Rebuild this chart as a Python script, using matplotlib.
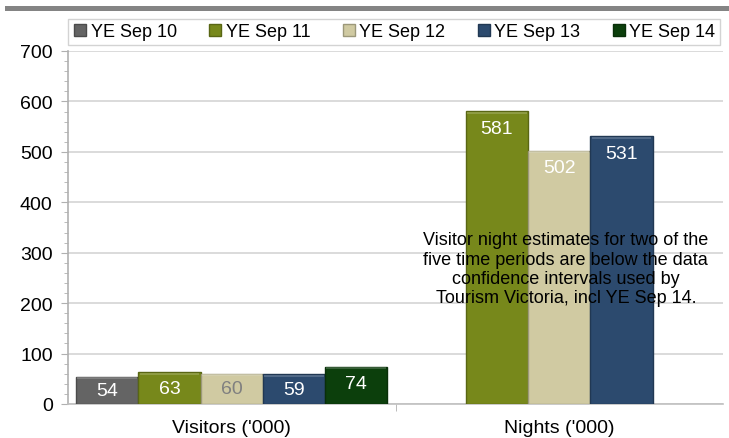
import numpy as np
import matplotlib
matplotlib.use("Agg")
import matplotlib.pyplot as plt
from matplotlib.patches import Rectangle
from matplotlib.lines import Line2D
import matplotlib.colors as mcolors

plt.rcParams['font.family'] = ['Liberation Sans', 'DejaVu Sans']

categories = ["Visitors ('000)", "Nights ('000)"]
series = ["YE Sep 10", "YE Sep 11", "YE Sep 12", "YE Sep 13", "YE Sep 14"]
ye_sep_10 = [54, np.nan]
ye_sep_11 = [63, 581]
ye_sep_12 = [60, 502]
ye_sep_13 = [59, 531]
ye_sep_14 = [74, np.nan]
values = [ye_sep_10, ye_sep_11, ye_sep_12, ye_sep_13, ye_sep_14]
colors = ["#646464", "#77881b", "#d0caa2", "#2c4a6e", "#0c3f0c"]
label_colors = [["white", "white"], ["white", "white"], ["#808080", "white"],
                ["white", "white"], ["white", "white"]]
note = ("Visitor night estimates for two of the\nfive time periods are below the data\n"
        "confidence intervals used by\nTourism Victoria, incl YE Sep 14.")

fig = plt.figure(figsize=(7.29, 4.39), dpi=100)
ax = fig.add_axes([68/729, 1-405/439, (723-68)/729, (405-52)/439])

# top gray rule
fig.add_artist(Rectangle((5/729, 1-12/439), 724/729, 5/439, transform=fig.transFigure,
                         facecolor="#848484", edgecolor="none"))

x = np.arange(len(categories))
width = 0.19
for i, (vals, c, lcs) in enumerate(zip(values, colors, label_colors)):
    pos = x + (i - 2) * width
    dark = tuple(np.array(mcolors.to_rgb(c)) * 0.75)
    bars = ax.bar(pos, vals, width, color=c, edgecolor=dark, linewidth=1.0, zorder=3)
    for b, v, lc in zip(bars, vals, lcs):
        if np.isnan(v):
            continue
        light = tuple(np.minimum(1, np.array(mcolors.to_rgb(c)) * 0.7 + 0.3))
        ax.add_patch(Rectangle((b.get_x() + 0.004, v - 5), b.get_width() - 0.008, 4,
                               facecolor=light, edgecolor="none", zorder=4, alpha=0.6))
        ypos = max(v - 34, v / 2)
        ax.text(b.get_x() + b.get_width() / 2, ypos, f"{v:.0f}", ha="center", va="center",
                color=lc, fontsize=14, zorder=5)

ax.set_xlim(-0.5, 1.5)
ax.set_ylim(0, 700)
ax.set_yticks(np.arange(0, 701, 100))
ax.set_yticks(np.arange(0, 701, 20), minor=True)
ax.set_xticks(x)
ax.set_xticklabels(categories, fontsize=14)
ax.set_xticks([0.5], minor=True)
ax.tick_params(axis='x', which='major', length=0, pad=11)
ax.tick_params(axis='x', which='minor', length=5, color="#b0b0b0")
ax.tick_params(axis='y', which='major', length=5, color="#b0b0b0", labelsize=14, pad=6)
ax.tick_params(axis='y', which='minor', length=3, color="#b0b0b0")
ax.grid(axis='y', color="#d4d4d4", linewidth=1.2, zorder=0)
for s in ["top", "right"]:
    ax.spines[s].set_visible(False)
ax.spines["left"].set_color("#b0b0b0")
ax.spines["bottom"].set_color("#c0c0c0")
ax.spines["left"].set_linewidth(1.2)
ax.spines["bottom"].set_linewidth(1.2)

ax.text(1.02, 268, note, ha="center", va="center", fontsize=13, linespacing=1.18,
        color="black", zorder=6)

handles = [Line2D([], [], marker="s", linestyle="none", markersize=8, markerfacecolor=c,
                  markeredgecolor=tuple(np.array(mcolors.to_rgb(c)) * 0.75)) for c in colors]
leg = fig.legend(handles, series, loc="lower left", ncol=5, mode="expand",
                 bbox_to_anchor=(68/729, 1-46/439, 652/729, 29/439), fontsize=13, frameon=True,
                 fancybox=False, edgecolor="#c8c8c8", handletextpad=0.2, columnspacing=0.8,
                 borderpad=0.25, handlelength=0.8, borderaxespad=0)
leg.get_frame().set_linewidth(1.0)
leg._legend_box.align = "center"

fig.savefig("out.png", dpi=100)
